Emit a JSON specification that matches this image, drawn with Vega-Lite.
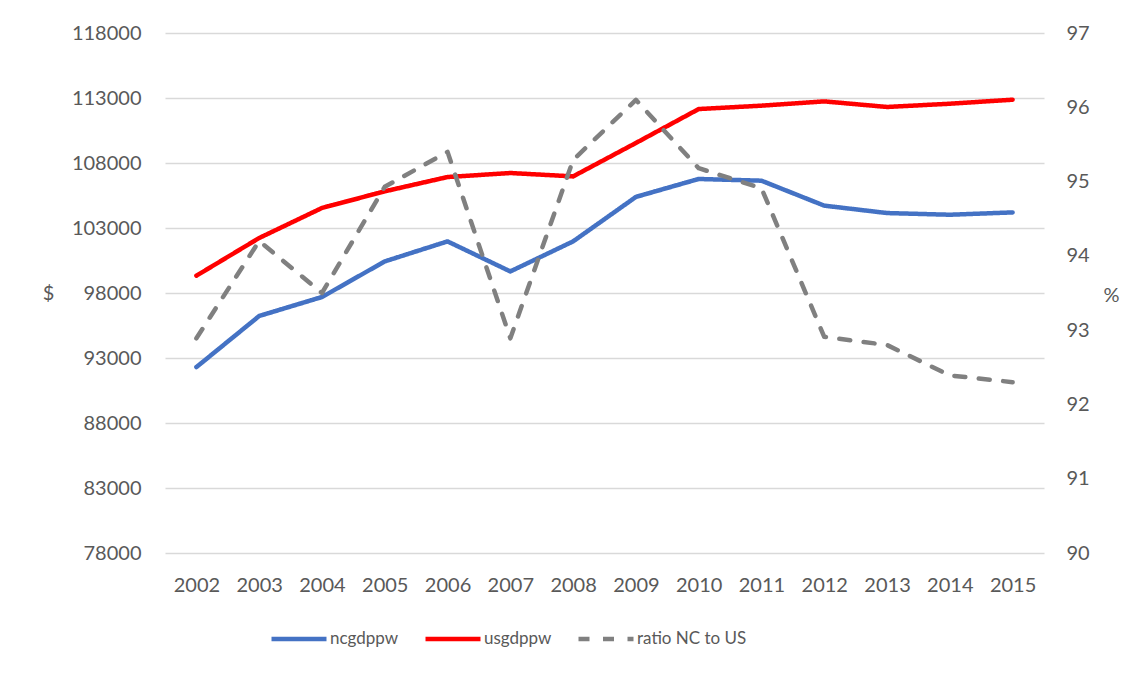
{
  "$schema": "https://vega.github.io/schema/vega-lite/v6.json",
  "width": 879,
  "height": 520,
  "autosize": {"type": "none"},
  "padding": {"left": 165, "top": 33, "right": 102, "bottom": 120},
  "background": "white",
  "config": {
    "view": {"stroke": null},
    "font": "Lato",
    "axis": {"labelFont": "Lato", "labelFontSize": 20, "labelColor": "#595959", "titleFont": "Lato", "titleFontSize": 20, "titleColor": "#595959", "titleFontWeight": "normal", "domain": false, "ticks": false},
    "legend": {
      "orient": "none", "legendX": 104, "legendY": 576, "direction": "horizontal", "gridAlign": "none",
      "symbolType": "stroke", "symbolSize": 3025, "symbolStrokeWidth": 4.5,
      "labelFont": "Lato", "labelFontSize": 17, "labelColor": "#595959", "labelOffset": 1,
      "columnPadding": 17, "title": null
    }
  },
  "data": {"values": [
    {"year": "2002", "series": "ncgdppw", "value": 92300},
    {"year": "2003", "series": "ncgdppw", "value": 96230},
    {"year": "2004", "series": "ncgdppw", "value": 97690},
    {"year": "2005", "series": "ncgdppw", "value": 100430},
    {"year": "2006", "series": "ncgdppw", "value": 101970},
    {"year": "2007", "series": "ncgdppw", "value": 99660},
    {"year": "2008", "series": "ncgdppw", "value": 101970},
    {"year": "2009", "series": "ncgdppw", "value": 105390},
    {"year": "2010", "series": "ncgdppw", "value": 106770},
    {"year": "2011", "series": "ncgdppw", "value": 106640},
    {"year": "2012", "series": "ncgdppw", "value": 104720},
    {"year": "2013", "series": "ncgdppw", "value": 104150},
    {"year": "2014", "series": "ncgdppw", "value": 104020},
    {"year": "2015", "series": "ncgdppw", "value": 104200},
    {"year": "2002", "series": "usgdppw", "value": 99330},
    {"year": "2003", "series": "usgdppw", "value": 102230},
    {"year": "2004", "series": "usgdppw", "value": 104540},
    {"year": "2005", "series": "usgdppw", "value": 105820},
    {"year": "2006", "series": "usgdppw", "value": 106920},
    {"year": "2007", "series": "usgdppw", "value": 107230},
    {"year": "2008", "series": "usgdppw", "value": 106970},
    {"year": "2009", "series": "usgdppw", "value": 109540},
    {"year": "2010", "series": "usgdppw", "value": 112150},
    {"year": "2011", "series": "usgdppw", "value": 112410},
    {"year": "2012", "series": "usgdppw", "value": 112740},
    {"year": "2013", "series": "usgdppw", "value": 112310},
    {"year": "2014", "series": "usgdppw", "value": 112560},
    {"year": "2015", "series": "usgdppw", "value": 112870},
    {"year": "2002", "series": "ratio NC to US", "value": 92.89},
    {"year": "2003", "series": "ratio NC to US", "value": 94.2},
    {"year": "2004", "series": "ratio NC to US", "value": 93.5},
    {"year": "2005", "series": "ratio NC to US", "value": 94.93},
    {"year": "2006", "series": "ratio NC to US", "value": 95.4},
    {"year": "2007", "series": "ratio NC to US", "value": 92.89},
    {"year": "2008", "series": "ratio NC to US", "value": 95.29},
    {"year": "2009", "series": "ratio NC to US", "value": 96.1},
    {"year": "2010", "series": "ratio NC to US", "value": 95.18},
    {"year": "2011", "series": "ratio NC to US", "value": 94.91},
    {"year": "2012", "series": "ratio NC to US", "value": 92.91},
    {"year": "2013", "series": "ratio NC to US", "value": 92.8},
    {"year": "2014", "series": "ratio NC to US", "value": 92.39},
    {"year": "2015", "series": "ratio NC to US", "value": 92.3}
  ]},
  "encoding": {
    "x": {"field": "year", "type": "ordinal", "scale": {"type": "point", "padding": 0.5},
      "axis": {"title": null, "labelAngle": 0, "labelPadding": 22, "grid": false}}
  },
  "layer": [
    {
      "transform": [{"filter": "datum.series !== 'ratio NC to US'"}],
      "mark": {"type": "line", "strokeWidth": 4.5, "strokeCap": "round", "strokeJoin": "round"},
      "encoding": {
        "y": {"field": "value", "type": "quantitative",
          "scale": {"domain": [78000, 118000], "nice": false, "zero": false},
          "axis": {"values": [78000, 83000, 88000, 93000, 98000, 103000, 108000, 113000, 118000], "format": "d", "labelPadding": 24, "grid": true, "gridColor": "#d9d9d9", "gridWidth": 1.3,
            "title": "$", "titleAngle": 0, "titleX": -117, "titleY": 260, "titleAlign": "center", "titleBaseline": "middle"}},
        "color": {"field": "series", "type": "nominal",
          "scale": {"domain": ["ncgdppw", "usgdppw", "ratio NC to US"], "range": ["#4472C4", "#FF0000", "#808080"]},
          "legend": {"title": null}},
        "strokeDash": {"field": "series", "type": "nominal",
          "scale": {"domain": ["ncgdppw", "usgdppw", "ratio NC to US"], "range": [[1, 0], [1, 0], [11, 13.5]]},
          "legend": {"title": null}}
      }
    },
    {
      "transform": [{"filter": "datum.series === 'ratio NC to US'"}],
      "mark": {"type": "line", "strokeWidth": 4.5, "strokeCap": "round", "strokeJoin": "round"},
      "encoding": {
        "y": {"field": "value", "type": "quantitative",
          "scale": {"domain": [90, 97], "nice": false, "zero": false},
          "axis": {"orient": "right", "values": [90, 91, 92, 93, 94, 95, 96, 97], "labelPadding": 22, "grid": false,
            "title": "%", "titleAngle": 0, "titleX": 67, "titleY": 262, "titleAlign": "center", "titleBaseline": "middle"}},
        "color": {"field": "series", "type": "nominal",
          "scale": {"domain": ["ncgdppw", "usgdppw", "ratio NC to US"], "range": ["#4472C4", "#FF0000", "#808080"]},
          "legend": {"title": null}},
        "strokeDash": {"field": "series", "type": "nominal",
          "scale": {"domain": ["ncgdppw", "usgdppw", "ratio NC to US"], "range": [[1, 0], [1, 0], [11, 13.5]]},
          "legend": {"title": null}}
      }
    }
  ],
  "resolve": {"scale": {"y": "independent"}}
}
